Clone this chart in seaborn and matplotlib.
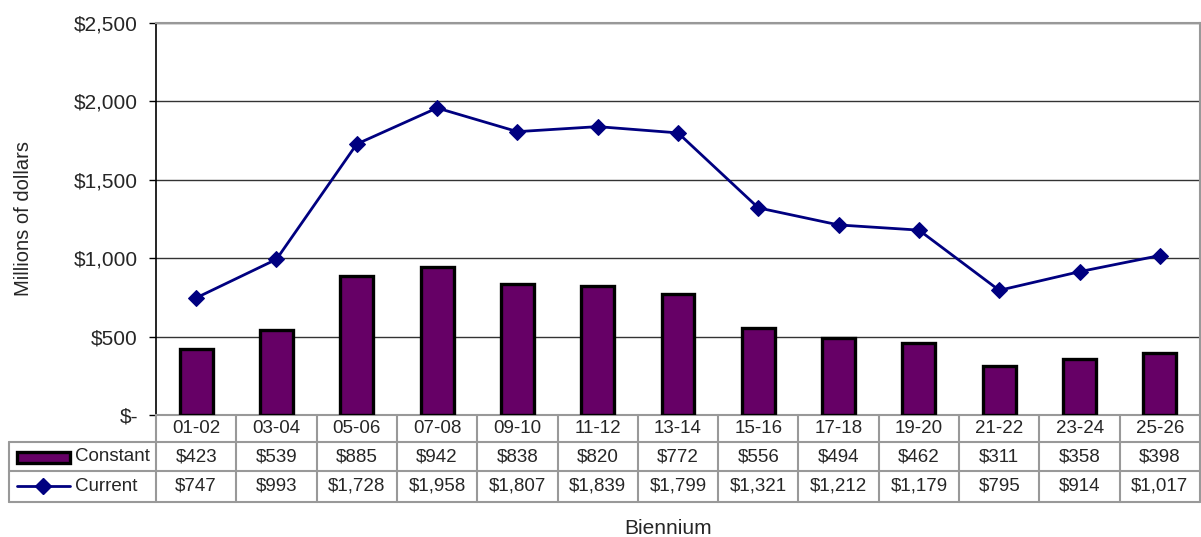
import numpy as np
import pandas as pd
import matplotlib
matplotlib.use('Agg')
import matplotlib.pyplot as plt
import matplotlib.patches as mpatches
import matplotlib.lines as mlines
import matplotlib.transforms as mtrans
import seaborn as sns

# data
biennium = ['01-02', '03-04', '05-06', '07-08', '09-10', '11-12', '13-14',
            '15-16', '17-18', '19-20', '21-22', '23-24', '25-26']
constant = [423, 539, 885, 942, 838, 820, 772, 556, 494, 462, 311, 358, 398]
current = [747, 993, 1728, 1958, 1807, 1839, 1799, 1321, 1212, 1179, 795, 914, 1017]
y_ticks = [0, 500, 1000, 1500, 2000, 2500]
y_tick_labels = ['$-', '$500', '$1,000', '$1,500', '$2,000', '$2,500']

bar_color = '#660066'
line_color = '#000080'
grid_gray = '#999999'

sns.set_style('white')
plt.rcParams['font.family'] = ['Liberation Sans', 'DejaVu Sans']

df = pd.DataFrame({'biennium': biennium, 'constant': constant, 'current': current})
df['pos'] = np.arange(len(df))

fig = plt.figure(figsize=(12.01, 5.37), dpi=100)
ax = fig.add_axes([0.1299, 0.2272, 0.8693, 0.73])

sns.barplot(data=df, x='pos', y='constant', color=bar_color, width=0.41,
            edgecolor='black', linewidth=2.4, saturation=1, ax=ax, zorder=3)
sns.lineplot(data=df, x='pos', y='current', color=line_color, marker='D',
             markersize=8, markeredgecolor=line_color, linewidth=2, ax=ax, zorder=4)

ax.set_xlim(-0.5, len(biennium) - 0.5)
ax.set_ylim(0, 2500)
ax.set_yticks(y_ticks)
ax.set_yticklabels(y_tick_labels, fontsize=15)
ax.set_xticks([])
ax.set_xlabel('')
ax.set_ylabel('Millions of dollars', fontsize=14.5)
ax.yaxis.set_label_coords(-0.118, 0.5)
ax.tick_params(axis='y', left=True, length=5, width=1, color='black', pad=8)
ax.grid(axis='y', color='#333333', linewidth=1, zorder=0)
ax.set_axisbelow(True)
ax.spines['left'].set_color('black')
ax.spines['left'].set_linewidth(1.2)
for s in ['top', 'right', 'bottom']:
    ax.spines[s].set_color(grid_gray)
    ax.spines[s].set_linewidth(1.5)

# data table under the axes
blend = mtrans.blended_transform_factory(ax.transData, ax.transAxes)
row_edges = [0, -0.0689, -0.1429, -0.2219]
left_col = -0.1408
tbl_kw = dict(color=grid_gray, linewidth=1.5, clip_on=False)

for y in row_edges[1:]:
    ax.plot([left_col, 1], [y, y], transform=ax.transAxes, **tbl_kw)
ax.plot([left_col, left_col], [row_edges[1], row_edges[3]], transform=ax.transAxes, **tbl_kw)
ax.plot([0, 0], [0, row_edges[3]], transform=ax.transAxes, **tbl_kw)
for i in range(len(biennium)):
    ax.plot([i + 0.5, i + 0.5], [0, row_edges[3]], transform=blend, **tbl_kw)

fs = 13.5
mids = [(row_edges[k] + row_edges[k + 1]) / 2 for k in range(3)]
for i, b in enumerate(biennium):
    ax.text(i, mids[0], b, transform=blend, ha='center', va='center', fontsize=fs)
    ax.text(i, mids[1], f'${constant[i]:,}', transform=blend, ha='center', va='center', fontsize=fs)
    ax.text(i, mids[2], f'${current[i]:,}', transform=blend, ha='center', va='center', fontsize=fs)

# legend keys in the table
key = mpatches.Rectangle((-0.1331, -0.1224), 0.0507, 0.028, transform=ax.transAxes,
                         facecolor=bar_color, edgecolor='black', linewidth=2.4, clip_on=False)
ax.add_patch(key)
ax.add_line(mlines.Line2D([-0.1331, -0.0824], [mids[2], mids[2]], transform=ax.transAxes,
                          color=line_color, linewidth=2, clip_on=False))
ax.add_line(mlines.Line2D([-0.1078], [mids[2]], transform=ax.transAxes, linestyle='none',
                          color=line_color, marker='D', markersize=8, clip_on=False))
ax.text(-0.0776, mids[1], 'Constant', transform=ax.transAxes, ha='left', va='center', fontsize=fs)
ax.text(-0.0776, mids[2], 'Current', transform=ax.transAxes, ha='left', va='center', fontsize=fs)

fig.text(668 / 1201, 1 - 528 / 537, 'Biennium', ha='center', va='center', fontsize=15)

fig.savefig('out.png', dpi=100)
